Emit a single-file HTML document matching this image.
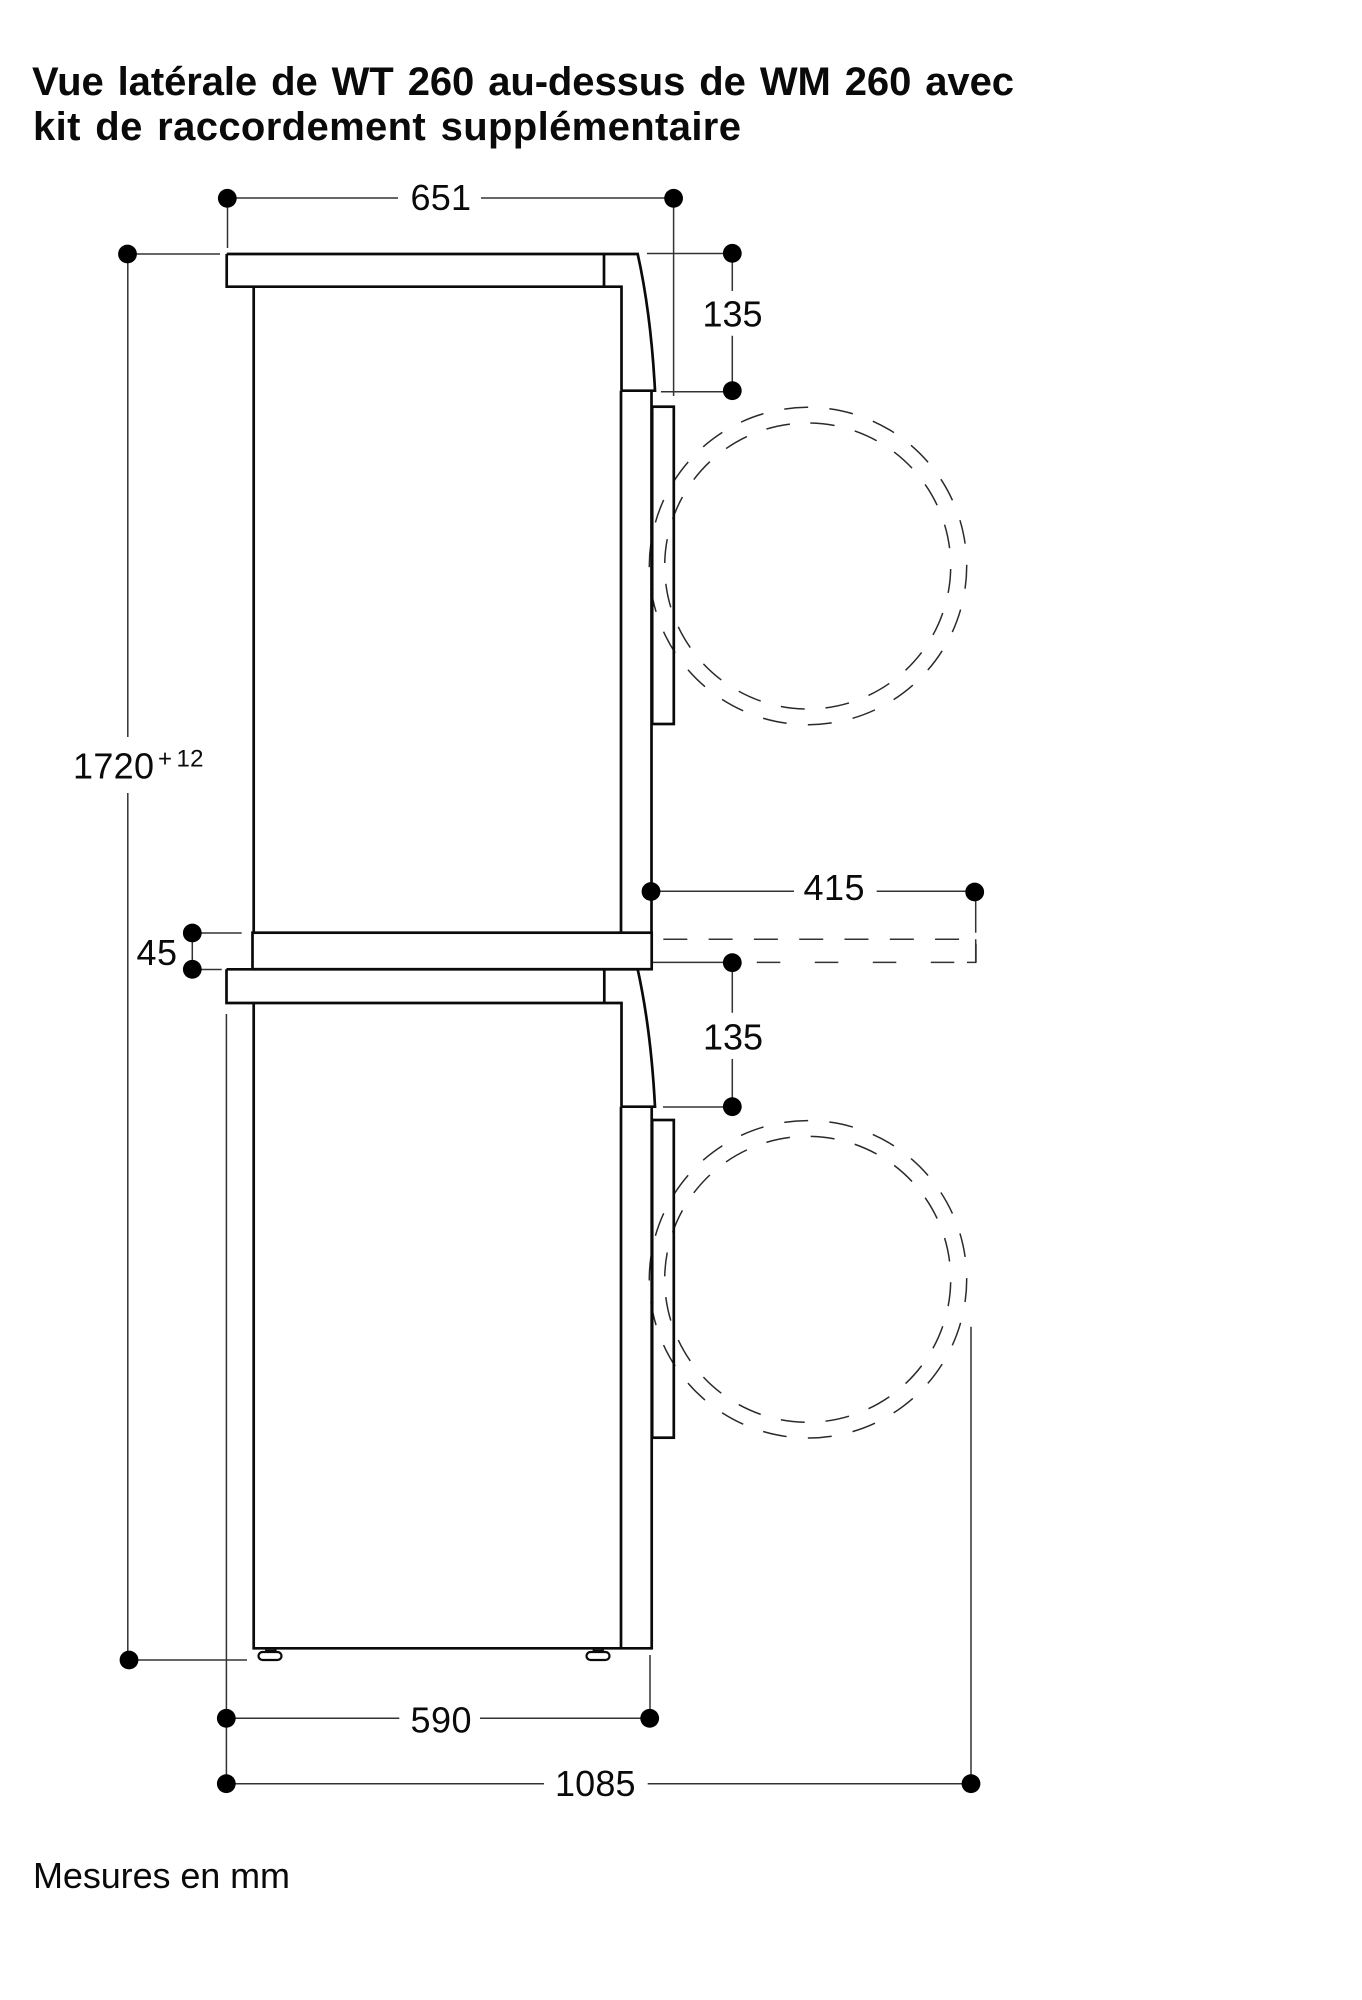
<!DOCTYPE html>
<html lang="fr"><head><meta charset="utf-8"><title>Vue latérale</title>
<style>
html,body{margin:0;padding:0;background:#fff;width:1362px;height:2000px;overflow:hidden}
svg{display:block}
text{font-family:"Liberation Sans",Arial,sans-serif;fill:#0a0a0a}
.t{font-weight:700;font-size:40px;word-spacing:3px}
.n{font-size:36px}
.s{fill:none;stroke:#0a0a0a;stroke-width:2.7;stroke-linejoin:miter}
.d{fill:none;stroke:#333;stroke-width:1.5}
.c{fill:none;stroke:#2a2a2a;stroke-width:1.5}
</style></head><body>
<svg width="1362" height="2000" viewBox="0 0 1362 2000" xmlns="http://www.w3.org/2000/svg">
<rect width="1362" height="2000" fill="#fff"/>
<text class="t" x="32" y="95" textLength="982" lengthAdjust="spacing">Vue latérale de WT 260 au-dessus de WM 260 avec</text>
<text class="t" x="33" y="140" textLength="708" lengthAdjust="spacing">kit de raccordement supplémentaire</text>

<!-- dashed circles -->
<circle class="c" cx="808" cy="566" r="158.7" pathLength="22" stroke-dasharray="0.53 0.47" transform="rotate(-0.43 808 566)"/>
<circle class="c" cx="807.7" cy="566" r="143" pathLength="20" stroke-dasharray="0.535 0.465" transform="rotate(1.2 807.7 566)"/>
<circle class="c" cx="808" cy="1279.3" r="158.7" pathLength="22" stroke-dasharray="0.53 0.47" transform="rotate(-0.43 808 1279.3)"/>
<circle class="c" cx="807.7" cy="1279.3" r="143" pathLength="20" stroke-dasharray="0.535 0.465" transform="rotate(1.2 807.7 1279.3)"/>

<!-- upper appliance -->
<path class="s" d="M226.7 254H637.7Q651 314 655 390.7H621"/>
<path class="s" d="M226.7 254V286.7H621.5V390.7M604 254V286.7M253.7 286.7V932.7"/>
<path class="s" d="M621 390.7V932.7M651.5 390.7V932.7"/>
<rect class="s" x="652.2" y="406.7" width="21.6" height="317.3"/>

<!-- shelf -->
<rect class="s" x="252.5" y="932.7" width="399.2" height="36.5"/>

<!-- lower appliance -->
<path class="s" d="M226.5 969.3V1003H621.5V1106.7"/>
<path class="s" d="M226.5 969.3H638"/>
<path class="s" d="M637.7 969.3Q651 1030 655 1106.7H621"/>
<path class="s" d="M604.3 969.3V1003M253.7 1003V1648.3H651.7V1106.7M621 1106.7V1648.3"/>
<rect class="s" x="652.2" y="1120" width="21.6" height="317.7"/>

<!-- feet -->
<rect x="258.5" y="1652" width="23" height="8" rx="4" fill="#fff" stroke="#0a0a0a" stroke-width="2.2"/>
<path d="M266 1648.3V1652M275.7 1648.3V1652M266 1650.5H275.7" fill="none" stroke="#0a0a0a" stroke-width="1.8"/>
<rect x="586.5" y="1652" width="23" height="8" rx="4" fill="#fff" stroke="#0a0a0a" stroke-width="2.2"/>
<path d="M593.5 1648.3V1652M603 1648.3V1652M593.5 1650.5H603" fill="none" stroke="#0a0a0a" stroke-width="1.8"/>

<!-- drawer dashed -->
<path class="d" d="M663.3 939.3H976V962.4" stroke-dasharray="24 21.3"/>
<path class="d" d="M975.7 939.3V962.4H967"/>
<path class="d" d="M967 962.4 H735" stroke-dasharray="0 12.7 23.5 21.8"/>
<path class="d" d="M653 962.4H732"/>

<!-- dimension lines -->
<g class="d">
<path d="M227 198H398M481 198H673.6"/>
<path d="M227.5 198V248"/>
<path d="M673.6 198V396"/>
<path d="M127.5 254H220"/>
<path d="M127.8 254V737M127.8 793V1660"/>
<path d="M129 1660H247"/>
<path d="M647 253.5H732"/>
<path d="M661 391.7H732"/>
<path d="M732.3 253.5V291M732.3 335.7V391"/>
<path d="M192.3 933H241.7M192.3 969.5H221.7M192.3 933V969.5"/>
<path d="M651 891.3H794M876.7 891.3H974.7"/>
<path d="M975.7 892V932.7"/>
<path d="M732.3 969V1012.7M732.3 1059V1107"/>
<path d="M663 1107H732"/>
<path d="M226.4 1014V1783.7"/>
<path d="M226.3 1718.3H399.3M480 1718.3H650"/>
<path d="M650 1655V1718"/>
<path d="M226.3 1783.7H544M647.7 1783.7H971"/>
<path d="M971 1326.7V1783.7"/>
</g>

<!-- dots -->
<g fill="#000">
<circle cx="227.3" cy="198.3" r="9.4"/>
<circle cx="673.6" cy="198.3" r="9.4"/>
<circle cx="127.5" cy="254" r="9.4"/>
<circle cx="732.3" cy="253.3" r="9.4"/>
<circle cx="732.3" cy="390.7" r="9.4"/>
<circle cx="192.3" cy="933" r="9.4"/>
<circle cx="192.3" cy="969.3" r="9.4"/>
<circle cx="651" cy="891.5" r="9.4"/>
<circle cx="974.7" cy="892" r="9.4"/>
<circle cx="732.3" cy="962.7" r="9.4"/>
<circle cx="732.3" cy="1106.7" r="9.4"/>
<circle cx="129" cy="1660" r="9.4"/>
<circle cx="226.3" cy="1718.3" r="9.4"/>
<circle cx="649.7" cy="1718.3" r="9.4"/>
<circle cx="226.3" cy="1783.7" r="9.4"/>
<circle cx="971" cy="1783.7" r="9.4"/>
</g>

<!-- labels -->
<text class="n" x="410.5" y="210" textLength="60.5">651</text>
<text class="n" x="702.5" y="326.7" textLength="60">135</text>
<text class="n" x="73" y="778.3" textLength="81">1720</text>
<text x="158" y="766.7" font-size="24">+</text>
<text x="176.5" y="766.7" font-size="24" textLength="27">12</text>
<text class="n" x="136.5" y="965" textLength="40.5">45</text>
<text class="n" x="803.5" y="900" textLength="61">415</text>
<text class="n" x="703" y="1049.3" textLength="60">135</text>
<text class="n" x="410.5" y="1732.3" textLength="61">590</text>
<text class="n" x="555" y="1796" textLength="80.5">1085</text>
<text class="n" x="33" y="1888.2" textLength="257" lengthAdjust="spacing">Mesures en mm</text>
</svg>
</body></html>
